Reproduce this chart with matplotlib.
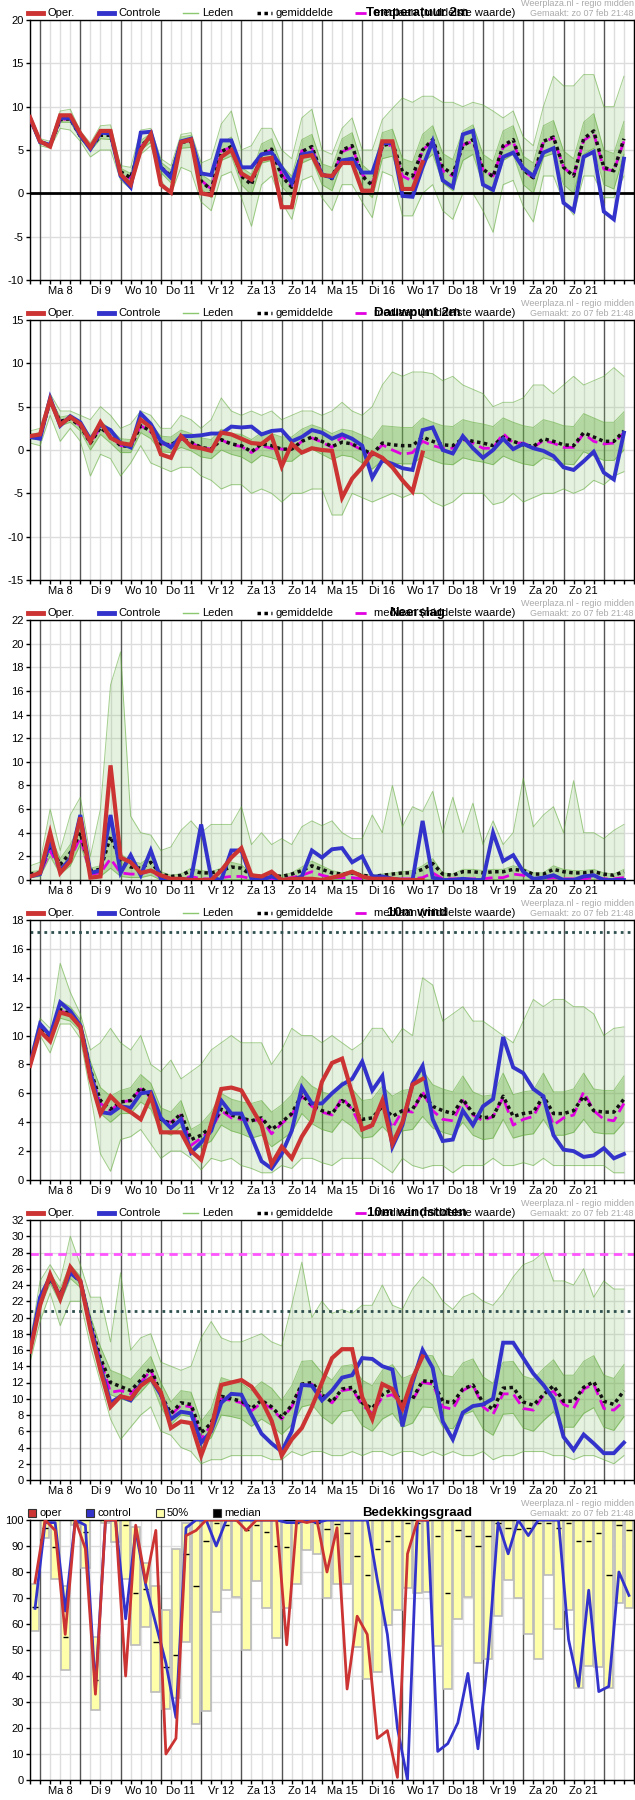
import matplotlib
matplotlib.use("Agg")
import matplotlib.pyplot as plt
from matplotlib.lines import Line2D
from matplotlib.patches import Rectangle
import numpy as np

plt.rcParams['font.family'] = ['Liberation Sans', 'DejaVu Sans']

# ---- time axis: 6-hourly steps, hour 0 = zo 7 feb 18:00 ----
hours = np.arange(60) * 6
day_labels = ['Ma 8', 'Di 9', 'Wo 10', 'Do 11', 'Vr 12', 'Za 13', 'Zo 14',
              'Ma 15', 'Di 16', 'Wo 17', 'Do 18', 'Vr 19', 'Za 20', 'Zo 21']

# ---- Temperatuur 2m ----
temp_oper = [8.8, 6.0, 5.4, 9.0, 9.0, 6.9, 5.3, 7.2, 7.2, 2.2,
             1.0, 5.0, 6.8, 1.0, 0.1, 5.9, 6.2, 0.0, -0.2, 4.2,
             5.0, 2.3, 1.6, 3.9, 4.1, -1.6, -1.6, 4.2, 4.4, 2.1,
             2.0, 3.5, 3.5, 0.3, 0.3, 6.0, 6.0, 0.5, 0.5, 3.6]
temp_ctrl = [8.7, 5.9, 5.6, 8.7, 8.7, 6.7, 5.1, 7.0, 6.9, 2.0,
             0.7, 7.0, 7.1, 3.0, 1.8, 6.0, 6.3, 2.3, 2.1, 6.1,
             6.1, 3.0, 3.0, 4.5, 4.7, 3.0, 1.2, 4.5, 4.7, 2.2,
             1.8, 3.8, 4.0, 2.4, 2.4, 5.8, 5.8, -0.3, -0.4, 3.0,
             6.0, 1.5, 0.7, 6.8, 7.2, 1.0, 0.4, 4.2, 4.7, 2.9,
             2.0, 4.7, 5.2, -1.1, -2.0, 4.2, 4.8, -2.1, -3.0, 4.0]
temp_mean = [8.6, 6.0, 5.5, 8.5, 8.6, 6.6, 5.2, 6.7, 6.7, 2.5,
             1.8, 5.5, 6.4, 3.0, 2.0, 5.9, 6.0, 1.4, 0.4, 4.8,
             5.4, 2.0, 1.0, 4.6, 5.1, 2.0, 0.7, 4.8, 5.4, 2.2,
             1.7, 5.0, 5.5, 2.0, 0.9, 5.5, 5.8, 2.5, 2.0, 5.0,
             6.2, 3.0, 2.2, 5.5, 6.2, 2.8, 1.9, 5.5, 6.2, 2.7,
             1.8, 6.0, 6.5, 3.0, 2.0, 6.3, 7.2, 3.0, 2.6, 6.3]
temp_med = [8.6, 6.0, 5.5, 8.5, 8.6, 6.6, 5.2, 6.8, 6.8, 2.4,
            1.7, 5.4, 6.4, 3.0, 2.0, 5.9, 6.1, 1.5, 0.5, 4.9,
            5.3, 2.0, 1.3, 4.5, 5.0, 2.2, 0.8, 4.9, 5.2, 2.3,
            1.8, 4.8, 5.3, 2.2, 1.0, 5.4, 5.6, 2.0, 1.4, 5.0,
            6.0, 2.6, 2.0, 5.6, 6.0, 2.7, 2.0, 5.3, 6.0, 2.6,
            1.8, 5.9, 6.4, 3.0, 2.0, 6.1, 6.9, 2.8, 2.6, 6.0]
temp_lo = [8.3, 5.5, 5.2, 7.5, 7.3, 6.0, 4.2, 5.0, 5.0, 1.5,
           0.5, 4.5, 5.5, 1.5, -0.1, 3.0, 2.5, -1.0, -2.0, 2.0,
           2.5, -0.5, -3.8, 1.0, 2.0, -1.0, -3.0, 1.5, 2.0, -0.5,
           -2.0, 1.0, 1.0, -1.0, -2.8, 2.5, 2.0, -2.6, -2.6, 0.0,
           1.0, -2.0, -3.0, 0.0, 0.0, -2.0, -4.5, 1.0, 1.5, -1.5,
           -3.3, 2.0, 2.0, -1.0, -2.5, 2.0, 2.0, -0.5, -0.5, 2.0]
temp_q1 = [8.5, 5.8, 5.4, 8.2, 8.2, 6.3, 4.9, 6.3, 6.2, 2.1,
           1.3, 5.0, 5.9, 2.4, 1.2, 5.2, 5.3, 0.5, -0.5, 3.8,
           4.3, 1.0, -0.2, 3.5, 3.8, 0.8, -0.5, 3.5, 4.0, 1.0,
           0.3, 3.6, 4.0, 0.6, -0.5, 4.0, 4.3, 0.8, 0.2, 3.5,
           4.5, 1.2, 0.3, 3.8, 4.5, 1.0, 0.0, 3.8, 4.5, 1.0,
           0.0, 4.2, 4.6, 1.0, 0.0, 4.5, 5.2, 1.0, 0.5, 4.5]
temp_q3 = [8.8, 6.1, 5.7, 8.9, 9.0, 6.9, 5.5, 7.2, 7.2, 2.9,
           2.3, 6.1, 6.9, 3.6, 2.7, 6.5, 6.7, 2.2, 1.4, 5.8,
           6.5, 3.0, 2.2, 5.7, 6.3, 3.2, 2.0, 6.2, 6.8, 3.4,
           3.0, 6.3, 7.0, 3.3, 2.3, 7.0, 7.4, 4.0, 3.6, 6.8,
           7.8, 4.6, 3.9, 7.2, 7.9, 4.5, 3.7, 7.2, 7.8, 4.3,
           3.5, 7.8, 8.4, 4.9, 4.0, 8.2, 9.2, 5.0, 4.6, 8.3]
temp_hi = [8.9, 6.3, 6.0, 9.5, 9.7, 7.2, 5.8, 7.8, 7.9, 3.2,
           3.0, 7.3, 7.5, 4.0, 3.2, 6.8, 7.0, 3.5, 4.0, 8.0,
           9.5, 5.0, 5.5, 7.5, 7.5, 5.0, 4.0, 8.7, 9.7, 5.0,
           4.5, 7.5, 8.7, 5.0, 5.0, 8.5, 9.8, 11.0, 10.5, 11.2,
           11.2, 10.5, 10.5, 10.0, 10.5, 10.2, 9.5, 8.7, 9.5, 6.5,
           5.5, 10.0, 13.5, 12.4, 12.4, 13.7, 13.7, 10.0, 10.0, 13.5]

# ---- Dauwpunt 2m ----
dew_oper = [1.6, 1.8, 5.8, 2.9, 3.8, 3.0, 1.0, 3.2, 1.4, 0.8,
            0.6, 3.5, 2.6, -0.5, -0.9, 1.6, 0.4, 0.2, -0.1, 2.0,
            1.8, 1.3, 0.8, 0.7, 1.6, -1.9, 0.7, -0.3, 0.2, 0.0,
            -0.1, -5.5, -3.3, -2.0, -0.3, -0.9, -2.0, -3.5, -4.8, -0.3]
dew_ctrl = [1.5, 1.3, 6.0, 2.8, 3.9, 3.2, 1.2, 2.9, 2.3, 0.8,
            0.3, 4.2, 3.0, 1.0, 0.3, 1.6, 1.6, 1.7, 1.9, 1.9,
            2.7, 2.6, 2.7, 1.8, 2.2, 2.3, 1.0, 1.5, 2.3, 2.0,
            1.3, 1.8, 1.3, 0.5, -3.2, -1.2, -1.6, -2.1, -2.3, 2.3,
            2.6, 0.0, -0.4, 1.6, 0.2, -0.9, 0.0, 1.3, 0.1, 0.7,
            0.2, -0.1, -0.7, -2.0, -2.3, -1.3, -0.2, -2.6, -3.4, 2.0]
dew_mean = [1.5, 1.6, 5.6, 3.3, 3.6, 2.8, 0.8, 2.6, 1.6, 0.5,
            0.4, 2.8, 2.2, 0.7, 0.6, 1.3, 0.9, 0.3, 0.1, 1.2,
            0.7, 0.5, -0.2, 0.7, 0.5, 0.1, 0.1, 1.0, 1.5, 1.0,
            0.4, 0.9, 0.7, 0.1, -0.5, 0.8, 0.6, 0.5, 0.5, 1.5,
            1.0, 0.6, 0.5, 1.3, 1.0, 0.8, 0.5, 1.5, 1.0, 0.6,
            0.4, 1.3, 1.0, 0.6, 0.5, 2.0, 1.5, 1.0, 1.0, 2.2]
dew_med = [1.5, 1.6, 5.6, 3.3, 3.6, 2.8, 0.8, 2.6, 1.6, 0.5,
           0.4, 2.8, 2.1, 0.7, 0.6, 1.3, 0.8, 0.3, 0.1, 1.2,
           0.6, 0.4, -0.3, 0.5, 0.2, 0.1, 0.0, 1.0, 1.4, 0.9,
           0.3, 1.6, 0.6, 0.0, -0.6, 0.6, 0.0, -0.5, -0.3, 1.0,
           0.5, 0.2, 0.2, 1.2, 0.8, 0.2, 0.2, 1.9, 0.8, 0.8,
           0.3, 1.1, 0.8, 0.3, 0.3, 1.9, 1.0, 0.7, 0.8, 2.0]
dew_lo = [0.8, 0.5, 4.0, 1.0, 2.5, 1.0, -3.0, -0.5, -1.0, -3.0,
          -1.5, 0.5, -1.5, -2.0, -2.5, -2.0, -2.0, -3.0, -3.5, -4.5,
          -4.0, -4.0, -5.0, -4.5, -5.0, -6.0, -5.0, -5.0, -4.5, -4.5,
          -7.5, -7.5, -5.0, -5.5, -6.0, -5.5, -5.0, -5.5, -5.0, -5.0,
          -6.0, -6.5, -6.0, -5.0, -5.0, -5.0, -6.3, -6.0, -5.0, -6.0,
          -5.5, -5.0, -5.0, -4.5, -5.0, -4.5, -3.5, -4.0, -3.0, -2.5]
dew_q1 = [1.3, 1.2, 5.2, 2.8, 3.2, 2.2, 0.0, 1.8, 0.8, -0.3,
          -0.3, 2.0, 1.3, -0.2, -0.3, 0.3, -0.1, -0.8, -1.0, 0.0,
          -0.5, -0.8, -1.5, -0.6, -0.9, -1.3, -1.3, -0.4, 0.1, -0.5,
          -1.1, -0.6, -0.8, -1.5, -2.2, -1.2, -1.5, -1.6, -1.6, -0.7,
          -1.2, -1.6, -1.7, -0.9, -1.2, -1.4, -1.7, -0.7, -1.2, -1.6,
          -1.8, -0.9, -1.2, -1.6, -1.7, -0.2, -0.7, -1.2, -1.2, 0.0]
dew_q3 = [1.8, 2.0, 6.0, 3.8, 4.0, 3.3, 1.6, 3.3, 2.4, 1.3,
          1.2, 3.5, 3.0, 1.6, 1.5, 2.3, 1.9, 1.4, 1.2, 2.4,
          1.9, 1.8, 1.2, 2.0, 1.9, 1.5, 1.5, 2.4, 2.9, 2.5,
          1.9, 2.4, 2.2, 1.7, 1.2, 2.8, 2.7, 2.6, 2.6, 3.7,
          3.2, 2.8, 2.7, 3.5, 3.2, 3.0, 2.7, 3.7, 3.2, 2.8,
          2.6, 3.5, 3.2, 2.8, 2.7, 4.2, 3.7, 3.2, 3.2, 4.4]
dew_hi = [2.2, 2.5, 6.5, 4.5, 4.5, 4.0, 3.5, 5.0, 4.0, 2.5,
          3.0, 4.5, 4.0, 2.5, 2.5, 4.0, 3.5, 2.5, 3.5, 6.0,
          4.5, 4.0, 4.5, 4.0, 4.5, 3.5, 4.0, 4.5, 4.5, 4.0,
          4.5, 5.5, 4.5, 4.0, 5.0, 7.5, 9.0, 8.5, 9.0, 9.0,
          8.8, 8.0, 8.5, 7.5, 7.0, 6.5, 5.0, 5.5, 5.5, 6.0,
          7.5, 7.5, 6.5, 7.5, 8.5, 7.5, 8.0, 8.5, 9.5, 8.5]

# ---- Neerslag ----
rain_oper = [0.3, 0.6, 4.0, 0.6, 1.6, 5.3, 0.2, 0.3, 9.7, 1.9,
             1.5, 0.6, 0.8, 0.4, 0.1, 0.1, 0.0, 0.0, 0.0, 0.8,
             1.9, 2.7, 0.4, 0.3, 0.7, 0.0, 0.1, 0.1, 0.1, 0.0,
             0.2, 0.4, 0.7, 0.3, 0.1, 0.1, 0.1, 0.0, 0.0, 0.0]
rain_ctrl = [0.3, 0.5, 3.3, 0.8, 1.8, 5.5, 0.6, 0.8, 5.5, 0.6,
             2.1, 0.4, 2.5, 0.1, 0.0, 0.0, 0.1, 4.7, 0.2, 0.0,
             2.5, 2.5, 0.1, 0.0, 0.3, 0.0, 0.0, 0.3, 2.5, 1.9,
             2.6, 2.7, 1.5, 2.0, 0.3, 0.3, 0.1, 0.0, 0.0, 5.0,
             0.2, 0.0, 0.0, 0.1, 0.0, 0.0, 4.0, 1.6, 2.1, 0.7,
             0.1, 0.2, 0.4, 0.0, 0.0, 0.3, 0.4, 0.0, 0.0, 0.0]
rain_mean = [0.5, 0.6, 3.0, 1.3, 2.3, 4.0, 0.8, 0.9, 3.7, 1.6,
             1.1, 1.0, 1.5, 0.5, 0.3, 0.4, 0.8, 0.6, 0.6, 0.8,
             1.1, 1.0, 0.4, 0.3, 0.4, 0.3, 0.5, 0.8, 1.2, 0.9,
             0.6, 0.5, 0.6, 0.4, 0.3, 0.4, 0.5, 0.6, 0.6, 0.9,
             1.4, 0.5, 0.4, 0.7, 0.7, 0.6, 0.7, 0.7, 0.9, 0.8,
             0.5, 0.5, 0.9, 0.7, 0.6, 0.6, 0.7, 0.5, 0.4, 0.7]
rain_med = [0.3, 0.5, 2.5, 0.8, 1.8, 3.6, 0.5, 0.6, 1.8, 0.6,
            0.5, 0.5, 0.8, 0.2, 0.1, 0.1, 0.3, 0.1, 0.1, 0.2,
            0.3, 0.3, 0.1, 0.1, 0.1, 0.1, 0.2, 0.4, 0.7, 0.4,
            0.2, 0.2, 0.2, 0.1, 0.1, 0.1, 0.1, 0.1, 0.1, 0.2,
            0.6, 0.1, 0.1, 0.1, 0.1, 0.1, 0.2, 0.2, 0.5, 0.4,
            0.1, 0.1, 0.2, 0.1, 0.1, 0.1, 0.2, 0.1, 0.1, 0.2]
rain_lo = [0.0] * 60
rain_q1 = [0.2, 0.3, 2.0, 0.5, 1.2, 3.0, 0.3, 0.3, 1.0, 0.3,
           0.2, 0.2, 0.4, 0.0, 0.0, 0.0, 0.0, 0.0, 0.0, 0.0,
           0.0, 0.0, 0.0, 0.0, 0.0, 0.0, 0.0, 0.0, 0.2, 0.1,
           0.0, 0.0, 0.0, 0.0, 0.0, 0.0, 0.0, 0.0, 0.0, 0.0,
           0.0, 0.0, 0.0, 0.0, 0.0, 0.0, 0.0, 0.0, 0.0, 0.0,
           0.0, 0.0, 0.0, 0.0, 0.0, 0.0, 0.0, 0.0, 0.0, 0.0]
rain_q3 = [0.7, 0.8, 3.8, 1.8, 3.0, 4.8, 1.0, 1.2, 5.0, 2.2,
           1.6, 1.4, 2.0, 0.7, 0.4, 0.5, 1.0, 0.8, 0.7, 1.0,
           1.5, 1.3, 0.5, 0.4, 0.5, 0.4, 0.6, 1.1, 1.6, 1.2,
           0.8, 0.6, 0.8, 0.5, 0.4, 0.5, 0.6, 0.7, 0.8, 1.2,
           1.8, 0.6, 0.5, 0.9, 0.9, 0.8, 0.9, 0.9, 1.2, 1.0,
           0.6, 0.6, 1.2, 0.9, 0.8, 0.8, 0.9, 0.6, 0.5, 0.9]
rain_hi = [1.2, 1.5, 6.0, 2.5, 5.5, 7.0, 2.0, 6.0, 16.5, 19.3,
           5.4, 4.0, 3.8, 2.5, 2.8, 4.2, 5.0, 4.0, 4.7, 4.7,
           4.7, 6.2, 3.0, 4.0, 3.0, 3.5, 3.0, 4.5, 5.0, 4.6,
           5.0, 4.0, 3.5, 3.5, 5.5, 4.0, 8.0, 4.5, 6.2, 5.8,
           7.5, 4.0, 7.0, 4.0, 6.5, 3.0, 5.0, 3.0, 4.0, 8.6,
           4.5, 5.5, 6.2, 4.0, 8.4, 4.0, 4.0, 3.5, 4.2, 4.7]

# ---- 10m wind ----
wind_oper = [7.9, 10.3, 9.6, 11.6, 11.4, 10.6, 7.0, 4.6, 5.8, 5.1,
             4.7, 4.2, 5.8, 3.3, 3.3, 3.3, 2.0, 1.4, 3.9, 6.3,
             6.4, 6.2, 5.0, 3.8, 1.1, 2.3, 1.5, 3.0, 4.1, 6.8,
             8.1, 8.4, 6.0, 3.5, 3.8, 5.5, 2.5, 4.0, 6.6, 7.0]
wind_ctrl = [8.0, 10.8, 10.0, 12.3, 11.7, 10.7, 7.5, 4.7, 4.6, 5.1,
             5.0, 6.0, 6.1, 4.3, 3.6, 4.2, 1.9, 2.6, 3.4, 5.5,
             4.6, 4.6, 3.0, 1.3, 0.8, 1.8, 3.4, 6.4, 5.3, 5.3,
             6.0, 6.6, 7.0, 8.2, 6.2, 7.2, 2.3, 3.8, 6.7, 7.9,
             4.2, 2.7, 2.8, 4.8, 3.8, 5.1, 5.6, 9.9, 7.8, 7.4,
             6.3, 5.8, 3.1, 2.1, 2.0, 1.6, 1.7, 2.2, 1.5, 1.8]
wind_mean = [8.0, 10.6, 9.8, 11.8, 11.5, 10.7, 7.6, 5.5, 4.9, 5.4,
             5.5, 6.4, 5.8, 4.2, 3.9, 4.6, 2.8, 3.1, 3.7, 4.9,
             4.5, 4.3, 4.1, 4.3, 3.5, 4.0, 4.6, 5.9, 5.2, 4.8,
             4.6, 5.5, 5.0, 4.2, 4.3, 5.1, 4.4, 4.8, 4.9, 6.0,
             5.1, 4.8, 4.6, 5.6, 4.6, 4.3, 4.4, 5.8, 4.4, 4.6,
             4.7, 5.8, 4.6, 4.6, 4.8, 5.8, 4.8, 4.7, 4.7, 5.6]
wind_med = [8.0, 10.6, 9.8, 11.7, 11.5, 10.7, 7.5, 5.3, 4.8, 5.4,
            5.5, 6.3, 5.7, 4.1, 4.0, 4.5, 2.4, 2.9, 3.5, 4.8,
            4.3, 4.2, 4.1, 4.2, 3.2, 3.9, 4.5, 5.8, 5.1, 4.7,
            4.5, 5.7, 4.9, 3.5, 3.7, 5.3, 3.6, 4.8, 4.7, 6.1,
            4.8, 4.2, 4.1, 5.5, 4.5, 4.1, 4.4, 5.7, 3.8, 4.2,
            4.4, 5.7, 3.8, 4.3, 4.5, 6.1, 4.8, 4.2, 4.1, 5.3]
wind_lo = [7.8, 10.0, 8.8, 10.8, 10.8, 9.8, 6.0, 1.8, 0.6, 2.8,
           3.0, 3.5, 2.5, 1.5, 2.0, 2.0, 1.5, 0.7, 1.5, 1.3,
           1.5, 1.0, 0.8, 0.5, 0.5, 1.0, 0.8, 1.5, 1.5, 1.2,
           1.0, 1.5, 1.5, 1.5, 1.5, 1.0, 0.5, 1.5, 1.0, 0.8,
           1.0, 1.0, 0.5, 1.0, 1.0, 1.0, 1.5, 1.0, 1.0, 1.2,
           1.0, 1.5, 1.0, 1.0, 1.0, 1.0, 1.0, 1.0, 0.5, 0.5]
wind_q1 = [7.9, 10.4, 9.5, 11.2, 11.0, 10.3, 7.0, 4.6, 4.0, 4.6,
           4.6, 5.4, 4.9, 3.4, 3.1, 3.7, 2.1, 2.3, 2.7, 3.8,
           3.4, 3.2, 2.9, 3.1, 2.3, 2.8, 3.3, 4.6, 3.9, 3.5,
           3.3, 4.2, 3.7, 2.9, 3.0, 3.7, 3.0, 3.4, 3.5, 4.4,
           3.6, 3.3, 3.1, 4.0, 3.1, 2.8, 2.9, 4.2, 2.9, 3.1,
           3.2, 4.2, 3.1, 3.1, 3.3, 4.2, 3.3, 3.2, 3.2, 4.0]
wind_q3 = [8.2, 10.9, 10.1, 12.4, 12.0, 11.1, 8.2, 6.4, 5.8, 6.2,
           6.4, 7.3, 6.7, 5.0, 4.7, 5.5, 3.5, 3.9, 4.7, 6.0,
           5.6, 5.4, 5.3, 5.5, 4.7, 5.2, 5.9, 7.2, 6.5, 6.1,
           5.9, 6.8, 6.3, 5.5, 5.6, 6.5, 5.8, 6.2, 6.3, 7.6,
           6.6, 6.3, 6.1, 7.2, 6.1, 5.8, 5.9, 7.4, 5.9, 6.1,
           6.2, 7.4, 6.1, 6.1, 6.3, 7.4, 6.3, 6.2, 6.2, 7.2]
wind_hi = [8.5, 11.2, 10.5, 15.0, 13.0, 11.5, 9.0, 9.5, 10.5, 9.5,
           9.0, 10.0, 8.0, 7.5, 8.3, 7.0, 7.5, 8.0, 9.0, 9.5,
           10.0, 9.5, 9.5, 9.5, 8.0, 9.0, 10.5, 10.0, 10.0, 9.5,
           10.0, 9.5, 9.0, 9.5, 10.5, 10.5, 9.5, 10.5, 10.0, 14.0,
           13.5, 11.0, 11.5, 12.0, 11.0, 11.0, 10.5, 10.0, 9.5, 11.0,
           12.5, 12.0, 12.5, 12.5, 12.0, 12.0, 11.5, 10.0, 10.5, 10.6]

# ---- 10m windstoten ----
gust_oper = [15.8, 21.5, 25.3, 22.3, 26.2, 24.5, 18.5, 13.5, 9.0, 10.3,
             10.0, 11.6, 12.5, 10.8, 6.4, 7.2, 7.0, 3.0, 6.3, 11.7,
             12.0, 12.3, 11.5, 9.8, 7.3, 3.0, 5.0, 6.4, 9.0, 12.0,
             15.0, 16.1, 16.1, 10.2, 7.5, 11.8, 11.2, 8.8, 12.5, 15.2]
gust_ctrl = [16.0, 22.5, 25.0, 22.5, 25.5, 24.5, 19.0, 14.0, 9.5, 10.3,
             9.8, 11.8, 12.5, 10.5, 7.5, 8.4, 8.2, 4.6, 6.0, 9.5,
             10.6, 10.5, 8.0, 5.7, 4.5, 3.5, 6.0, 11.7, 11.6, 9.8,
             11.0, 12.6, 12.9, 15.0, 14.9, 14.0, 13.6, 6.6, 12.0, 16.0,
             13.8, 7.2, 5.0, 8.3, 9.1, 9.3, 10.0, 16.9, 16.9, 15.0,
             13.1, 11.7, 10.0, 5.3, 3.7, 5.6, 4.5, 3.3, 3.3, 4.6]
gust_mean = [16.0, 22.0, 24.8, 22.8, 25.6, 24.4, 19.3, 15.0, 12.0, 11.5,
             11.0, 12.3, 13.8, 10.5, 8.2, 9.5, 9.3, 5.8, 7.0, 10.3,
             10.0, 9.7, 8.8, 9.8, 9.0, 7.7, 9.2, 11.8, 12.0, 10.5,
             9.6, 11.2, 11.4, 9.5, 8.8, 10.5, 11.2, 9.5, 10.0, 12.2,
             12.1, 9.7, 9.5, 11.2, 11.7, 9.5, 8.7, 11.3, 11.4, 9.6,
             9.2, 10.5, 11.6, 9.7, 9.7, 11.4, 12.1, 9.7, 9.3, 11.0]
gust_med = [16.0, 22.0, 24.8, 22.8, 25.6, 24.4, 19.2, 14.8, 10.8, 11.0,
            10.6, 12.0, 13.5, 10.3, 8.0, 9.2, 9.0, 5.0, 6.8, 10.0,
            9.8, 9.5, 8.5, 9.5, 8.8, 7.5, 9.0, 11.6, 11.8, 10.2,
            9.5, 11.0, 11.2, 9.2, 8.2, 10.2, 10.5, 9.3, 9.8, 12.0,
            11.8, 9.0, 8.7, 11.0, 11.7, 9.0, 8.1, 10.6, 10.6, 8.8,
            8.6, 10.4, 10.9, 9.3, 8.8, 11.2, 11.8, 8.8, 8.6, 9.7]
gust_lo = [14.5, 19.5, 23.0, 19.0, 22.0, 22.0, 16.5, 12.0, 7.5, 5.0,
           6.5, 8.0, 9.0, 6.0, 5.5, 4.0, 3.5, 2.0, 2.5, 2.5,
           3.0, 3.0, 3.0, 3.0, 2.5, 2.5, 3.5, 3.0, 3.5, 3.5,
           3.0, 3.0, 3.5, 3.0, 3.5, 3.5, 3.0, 3.5, 3.5, 3.0,
           3.5, 3.0, 3.5, 3.0, 3.0, 3.5, 2.5, 3.0, 3.0, 3.5,
           3.5, 3.5, 3.0, 3.0, 2.5, 3.0, 3.0, 2.5, 2.0, 3.0]
gust_q1 = [15.6, 21.3, 24.2, 21.8, 24.8, 23.7, 18.4, 13.6, 10.5, 10.0,
           9.6, 10.8, 12.2, 9.0, 6.8, 8.0, 7.8, 4.4, 5.2, 8.0,
           7.8, 7.5, 6.6, 7.5, 6.7, 5.6, 6.8, 9.0, 9.3, 7.8,
           6.9, 8.4, 8.6, 6.7, 6.0, 7.5, 8.2, 6.5, 7.0, 9.0,
           8.9, 6.5, 6.3, 8.0, 8.5, 6.3, 5.5, 8.1, 8.2, 6.4,
           6.0, 7.3, 8.4, 6.5, 6.5, 8.2, 8.9, 6.5, 6.1, 7.8]
gust_q3 = [16.4, 22.7, 25.4, 23.6, 26.5, 25.1, 20.2, 16.4, 13.5, 13.0,
           12.4, 13.8, 15.2, 12.0, 9.6, 11.0, 10.8, 7.2, 8.8, 12.6,
           12.2, 11.9, 11.0, 12.1, 11.3, 9.8, 11.6, 14.6, 14.7, 13.2,
           12.3, 14.0, 14.2, 12.3, 11.6, 13.5, 14.2, 12.5, 13.0, 15.4,
           15.3, 12.9, 12.7, 14.4, 14.9, 12.7, 11.9, 14.5, 14.6, 12.8,
           12.4, 13.7, 14.8, 12.9, 12.9, 14.6, 15.3, 12.9, 12.5, 14.2]
gust_hi = [17.0, 24.5, 26.5, 24.5, 30.0, 26.5, 22.5, 22.5, 17.0, 25.5,
           16.0, 17.5, 18.0, 14.5, 14.0, 13.5, 14.0, 17.5, 19.5, 17.5,
           17.0, 17.0, 17.5, 18.0, 17.0, 16.5, 21.5, 26.8, 20.0, 22.0,
           20.5, 21.0, 20.5, 21.5, 21.5, 24.0, 21.5, 21.0, 23.5, 25.0,
           24.0, 22.0, 21.0, 22.5, 23.0, 22.0, 21.5, 23.0, 25.0, 26.5,
           27.0, 28.0, 24.5, 24.5, 24.0, 26.0, 22.5, 24.5, 23.5, 23.5]

# ---- Bedekkingsgraad ----
cloud_oper = [76, 100, 96, 56, 100, 89, 33, 100, 100, 40,
              98, 76, 96, 10, 16, 94, 96, 100, 100, 100,
              100, 96, 100, 100, 100, 52, 100, 99, 100, 80,
              97, 35, 63, 56, 16, 19, 1, 87, 100, 100]
cloud_ctrl = [66, 99, 99, 65, 100, 98, 35, 100, 100, 62,
              96, 75, 60, 45, 24, 97, 100, 100, 90, 100,
              100, 100, 100, 100, 100, 99, 99, 100, 99, 100,
              100, 100, 100, 100, 77, 56, 20, 0, 100, 100,
              11, 14, 22, 41, 12, 47, 99, 87, 100, 94,
              100, 100, 100, 54, 36, 73, 34, 36, 80, 71]
cloud_q1 = [57.5, 93, 77.5, 42.5, 98, 81.5, 27, 99, 91.5, 77.5,
            52, 59, 34, 27.5, 31.5, 53, 21.5, 26.5, 64.5, 73,
            70.5, 50, 76.5, 66, 54.5, 66, 75.5, 88.5, 87, 70,
            75.5, 75.5, 51, 39, 41.5, 59.5, 65.5, 74, 72, 72.5,
            51.5, 35, 62, 70.5, 45, 46.5, 63, 77, 70, 56,
            46.5, 79, 58, 65.5, 35.5, 44, 43.5, 35.5, 68, 66]
cloud_q3 = [75.5, 100, 100, 74.5, 100, 100, 55, 100, 100, 100,
            97.5, 83.5, 74.5, 65.5, 89, 99, 100, 100, 100, 100,
            100, 100, 100, 100, 100, 100, 100, 100, 100, 100,
            100, 100, 100, 100, 100, 100, 100, 100, 100, 100,
            100, 100, 100, 100, 100, 100, 100, 100, 100, 100,
            100, 100, 100, 100, 100, 100, 100, 100, 100, 100]
cloud_med = [66.5, 97, 89.5, 55, 99, 95.5, 38.5, 100, 100, 98,
             72, 73.5, 53, 43.5, 48, 87, 74.5, 92, 99, 98,
             100, 96, 98, 95.5, 90, 89.5, 99, 99.5, 99, 96.5,
             98.5, 95, 86, 79, 89, 92, 94, 99, 99, 100,
             94, 72, 96, 94, 90, 94, 99, 97, 96.5, 97,
             99, 99, 97, 99, 92, 92, 95, 79, 98, 96]

RED = '#cc3333'
BLUE = '#3333cc'
GREEN = '#5aa832'
MAG = '#e000e0'

fig = plt.figure(figsize=(6.35, 18), dpi=100)
W, H = 635.0, 1800.0


def px_axes(top, left=30, right=634, height=260):
    return fig.add_axes([left / W, 1 - (top + height) / H, (right - left) / W, height / H])


def frame(ax, xmin, xmax, ylim, yticks):
    ax.set_xlim(xmin, xmax)
    ax.set_ylim(*ylim)
    ax.set_yticks(yticks)
    ax.set_yticklabels([str(v) for v in yticks], fontsize=8)
    for y in yticks:
        ax.axhline(y, color='#dddddd', lw=1, zorder=0)
    for h in range(0, 361, 6):
        if (h - 6) % 24 == 0:
            ax.axvline(h, color='#555555', lw=1, zorder=0.5)
        else:
            ax.axvline(h, color='#dddddd', lw=1, zorder=0)
    noons = [18 + 24 * j for j in range(len(day_labels))]
    ax.set_xticks(noons)
    ax.set_xticklabels(day_labels, fontsize=8)
    ax.set_xticks(range(0, 361, 6), minor=True)
    ax.tick_params(axis='both', which='both', length=3, width=1, pad=1.5, color='black')
    for s in ax.spines.values():
        s.set_color('black')
        s.set_linewidth(1)


def header(top, title, cloud=False):
    yl = 1 - (top - 7) / H
    if cloud:
        items = [(28, RED, 'oper'), (86, BLUE, 'control'), (156, '#ffffaa', '50%'), (213, 'black', 'median')]
        for x, c, lab in items:
            fig.patches.append(Rectangle((x / W, yl - 4 / H), 8 / W, 8 / H, transform=fig.transFigure,
                                         facecolor=c, edgecolor='#333333', lw=0.8))
            fig.text((x + 11) / W, yl, lab, fontsize=8, va='center', ha='left')
    else:
        items = [(28, dict(color=RED, lw=3.5), 'Oper.'),
                 (99, dict(color=BLUE, lw=3.5), 'Controle'),
                 (183, dict(color='#8cc870', lw=1), 'Leden'),
                 (257, dict(color='black', lw=2.5, ls=(0, (1, 1))), 'gemiddelde'),
                 (355, dict(color=MAG, lw=2, ls=(0, (4, 2))), 'mediaan (middelste waarde)')]
        for x, kw, lab in items:
            fig.add_artist(Line2D([x / W, (x + 15) / W], [yl, yl], transform=fig.transFigure, **kw))
            fig.text((x + 19) / W, yl, lab, fontsize=8, va='center', ha='left')
    fig.text(417 / W, yl, title, fontsize=9.5, fontweight='bold', ha='center', va='center')
    fig.text(634 / W, 1 - (top - 16) / H, 'Weerplaza.nl - regio midden', fontsize=6.5,
             color='#aaaaaa', ha='right', va='center')
    fig.text(634 / W, 1 - (top - 7) / H, 'Gemaakt: zo 07 feb 21:48', fontsize=6.5,
             color='#aaaaaa', ha='right', va='center')


def ensemble(ax, oper, ctrl, lo, q1, q3, hi, mean, med):
    ax.fill_between(hours, lo, hi, color='#8cc870', alpha=0.22, lw=0, zorder=1)
    ax.fill_between(hours, q1, q3, color=GREEN, alpha=0.35, lw=0, zorder=1)
    for m in (lo, q1, q3, hi):
        ax.plot(hours, m, color=GREEN, lw=0.7, alpha=0.55, zorder=1.5)
    ax.plot(hours, med, color=MAG, lw=2, ls=(0, (4, 2)), zorder=3)
    ax.plot(hours, mean, color='#111111', lw=2.5, ls=(0, (1, 1)), zorder=3.5)
    ax.plot(hours, ctrl, color=BLUE, lw=2.8, zorder=4, solid_joinstyle='miter')
    ax.plot(hours[:len(oper)], oper, color=RED, lw=3, zorder=5, solid_joinstyle='miter')


tops = [20, 320, 620, 920, 1220, 1520]

ax1 = px_axes(tops[0])
frame(ax1, 0, 354, (-10, 20), list(range(-10, 21, 5)))
ensemble(ax1, temp_oper, temp_ctrl, temp_lo, temp_q1, temp_q3, temp_hi, temp_mean, temp_med)
ax1.axhline(0, color='black', lw=2, zorder=2)
header(tops[0], 'Temperatuur 2m')

ax2 = px_axes(tops[1])
frame(ax2, 0, 354, (-15, 15), list(range(-15, 16, 5)))
ensemble(ax2, dew_oper, dew_ctrl, dew_lo, dew_q1, dew_q3, dew_hi, dew_mean, dew_med)
header(tops[1], 'Dauwpunt 2m')

ax3 = px_axes(tops[2])
frame(ax3, 0, 354, (0, 22), list(range(0, 23, 2)))
ensemble(ax3, rain_oper, rain_ctrl, rain_lo, rain_q1, rain_q3, rain_hi, rain_mean, rain_med)
header(tops[2], 'Neerslag')

ax4 = px_axes(tops[3])
frame(ax4, 0, 354, (0, 18), list(range(0, 19, 2)))
ensemble(ax4, wind_oper, wind_ctrl, wind_lo, wind_q1, wind_q3, wind_hi, wind_mean, wind_med)
ax4.axhline(17.2, color='#2f4f4f', lw=2, ls=(0, (1, 1.5)), zorder=2)
header(tops[3], '10m wind')

ax5 = px_axes(tops[4])
frame(ax5, 0, 354, (0, 32), list(range(0, 33, 2)))
ensemble(ax5, gust_oper, gust_ctrl, gust_lo, gust_q1, gust_q3, gust_hi, gust_mean, gust_med)
ax5.axhline(27.8, color='#ff55ff', lw=2, ls=(0, (3, 2)), zorder=2)
ax5.axhline(20.8, color='#2f4f4f', lw=2, ls=(0, (1, 1.5)), zorder=2)
header(tops[4], '10m windstoten')

ax6 = px_axes(tops[5])
frame(ax6, 2.7, 357, (0, 100), list(range(0, 101, 10)))
bar_x = hours + 3
q1a = np.array(cloud_q1)
q3a = np.array(cloud_q3)
ax6.bar(bar_x, q3a - q1a, bottom=q1a, width=5.2, color='#ffffaa',
        edgecolor='#bbbbbb', lw=1.2, zorder=1)
ax6.hlines(cloud_med, bar_x - 1.6, bar_x + 1.6, color='black', lw=1, zorder=2)
ax6.plot(bar_x, cloud_ctrl, color=BLUE, lw=2, zorder=4)
ax6.plot(bar_x[:len(cloud_oper)], cloud_oper, color=RED, lw=2, zorder=5)
header(tops[5], 'Bedekkingsgraad', cloud=True)

fig.savefig('out.png', dpi=100)
